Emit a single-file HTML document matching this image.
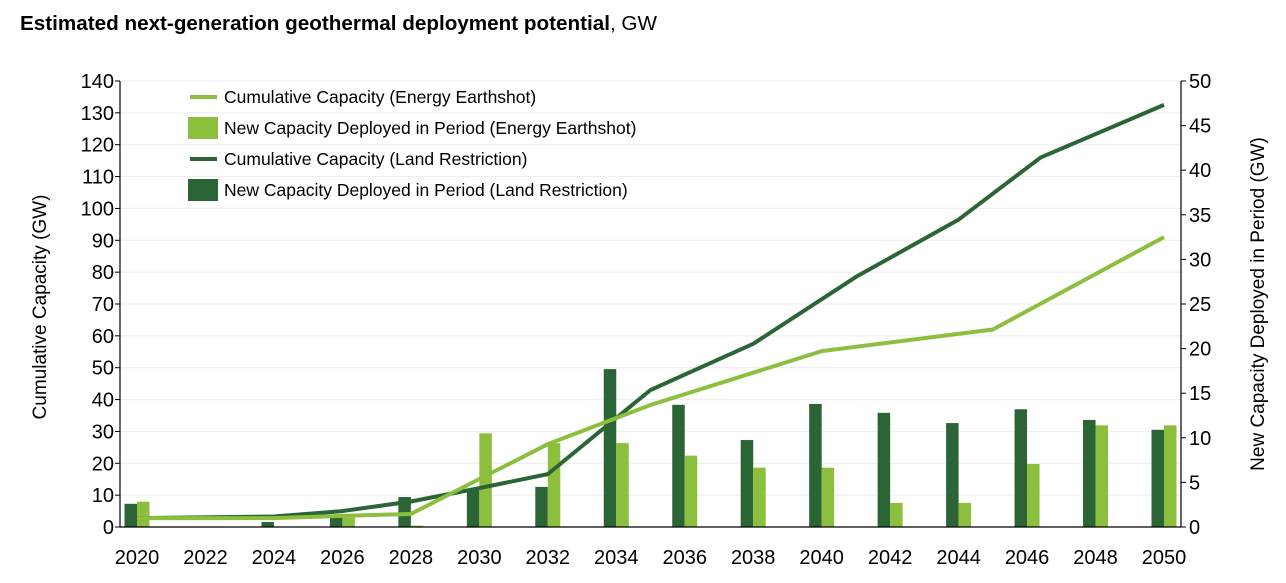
<!DOCTYPE html>
<html><head><meta charset="utf-8"><style>
body{margin:0;background:#fff;font-family:"Liberation Sans",Arial,sans-serif}
svg text{font-family:"Liberation Sans",Arial,sans-serif}
</style></head><body>
<svg id="c" width="1286" height="578" xmlns="http://www.w3.org/2000/svg">
<text x="20" y="30" font-size="20" textLength="637" lengthAdjust="spacingAndGlyphs"><tspan font-weight="bold">Estimated next-generation geothermal deployment potential</tspan>, GW</text>
<g id="grid"></g><g id="bars"></g><g id="lines"></g><g id="axes"></g>
<text transform="translate(46,307) rotate(-90)" text-anchor="middle" font-size="19">Cumulative Capacity (GW)</text>
<text transform="translate(1264,304) rotate(-90)" text-anchor="middle" font-size="19">New Capacity Deployed in Period (GW)</text>
<g font-size="17.5">
<line x1="190" y1="97" x2="217" y2="97" stroke="#8dbf3e" stroke-width="4"/>
<text x="224" y="103">Cumulative Capacity (Energy Earthshot)</text>
<rect x="188" y="117" width="30" height="22" fill="#8dbf3e"/>
<text x="224" y="134">New Capacity Deployed in Period (Energy Earthshot)</text>
<line x1="190" y1="159" x2="217" y2="159" stroke="#2b6536" stroke-width="4"/>
<text x="224" y="165">Cumulative Capacity (Land Restriction)</text>
<rect x="188" y="179" width="30" height="22" fill="#2b6536"/>
<text x="224" y="196">New Capacity Deployed in Period (Land Restriction)</text>
</g>
</svg>
<script>
const barYears=[2020,2022,2024,2026,2028,2030,2032,2034,2036,2038,2040,2042,2044,2046,2048,2050];
const newLand=[2.6,0,0.56,1.35,3.36,4.1,4.5,17.7,13.7,9.75,13.8,12.8,11.65,13.2,12.0,10.9];
const newEarth=[2.84,0,0,1.05,0.15,10.5,9.4,9.4,8.0,6.65,6.65,2.7,2.7,7.06,11.4,11.4];
const earthYears=[2020,2024,2026,2028,2032,2035,2040,2045,2050];
const earthCum=[2.8,2.8,3.5,4.1,26,38.3,55.2,62,91];
const landYears=[2020,2024,2026,2028,2030,2032,2035,2038,2041,2044,2046.4,2050];
const landCum=[2.8,3.3,5,8,12.2,16.6,43,57.5,78.5,96.5,116,132.5];
const leftTicks=[0,10,20,30,40,50,60,70,80,90,100,110,120,130,140];
const rightTicks=[0,5,10,15,20,25,30,35,40,45,50];
const xTicks=[2020,2022,2024,2026,2028,2030,2032,2034,2036,2038,2040,2042,2044,2046,2048,2050];
const NS="http://www.w3.org/2000/svg";
const X0=120,X1=1181,Y0=527,Y1=81;
const x=y=>137+(y-2020)*(1164-137)/30;
const yL=v=>Y0-v*(Y0-Y1)/140;
const yR=v=>Y0-v*(Y0-Y1)/50;
function mk(p,t,a){const e=document.createElementNS(NS,t);for(const k in a)e.setAttribute(k,a[k]);document.getElementById(p).appendChild(e);return e;}
leftTicks.forEach(v=>{
 if(v>0){const g=mk('grid','line',{x1:X0,x2:X1,y1:yL(v),y2:yL(v),stroke:'#ececec','stroke-width':1});
 
 }
 const t=mk('axes','line',{x1:X0-5,x2:X0,y1:yL(v),y2:yL(v),stroke:'#000'});
 
 
 const l=mk('axes','text',{x:X0-6,y:yL(v)+7,'text-anchor':'end','font-size':20});l.textContent=v;
 
 
});
rightTicks.forEach(v=>{
 const t=mk('axes','line',{x1:X1,x2:X1+5,y1:yR(v),y2:yR(v),stroke:'#000'});
 
 
 const l=mk('axes','text',{x:X1+8,y:yR(v)+7,'font-size':20});l.textContent=v;
 
 
});
xTicks.forEach(v=>{
 const l=mk('axes','text',{x:x(v),y:564,'text-anchor':'middle','font-size':20});l.textContent=v;
 
 
});
barYears.forEach((yr,i)=>{
 if(newLand[i]>0){const b=mk('bars','rect',{x:x(yr)-12.5,y:yR(newLand[i]),width:12.5,height:Y0-yR(newLand[i]),fill:'#2b6536'});
 
 }
 if(newEarth[i]>0){const b=mk('bars','rect',{x:x(yr),y:yR(newEarth[i]),width:12.5,height:Y0-yR(newEarth[i]),fill:'#8dbf3e'});
 
 }
});
const pl=(ys,vs)=>ys.map((y,i)=>x(y)+','+yL(vs[i])).join(' ');
const l1=mk('lines','polyline',{points:pl(landYears,landCum),fill:'none',stroke:'#2b6536','stroke-width':4,'stroke-linejoin':'round'});


const l2=mk('lines','polyline',{points:pl(earthYears,earthCum),fill:'none',stroke:'#8dbf3e','stroke-width':4,'stroke-linejoin':'round'});


const ax=[[X0,Y1,X0,Y0],[X1,Y1,X1,Y0],[X0,Y0,X1,Y0]];
ax.forEach(a=>{const e=mk('axes','line',{x1:a[0],y1:a[1],x2:a[2],y2:a[3],stroke:'#000','stroke-width':1.2});
 
 });
</script>
</body></html>
